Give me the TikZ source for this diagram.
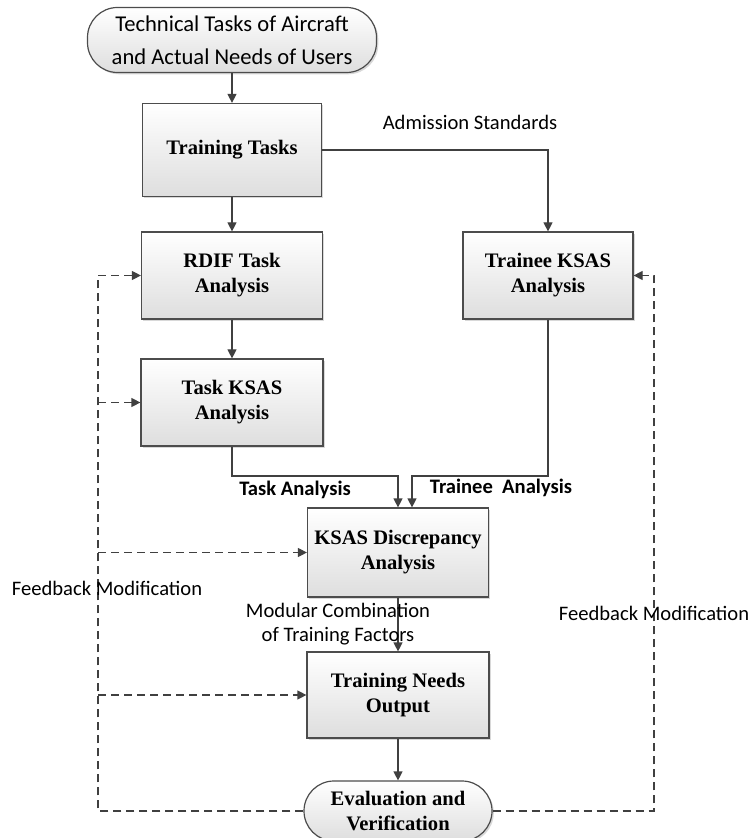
\documentclass[tikz,border=0pt]{standalone}
\usepackage{fontspec}
\setmainfont{Liberation Serif}
\newfontfamily\calibri{Carlito}
\usetikzlibrary{arrows.meta,shadows}

\tikzset{
  box/.style={draw=black!70, line width=0.6pt, top color=white, bottom color=black!13,
    drop shadow={shadow xshift=0.9pt, shadow yshift=-0.9pt, fill=black!30},
    align=center, inner sep=2pt, font=\fontsize{10.3}{12.5}\selectfont\bfseries},
  term/.style={box, rounded corners=15pt},
  link/.style={draw=black!75, line width=0.6pt, -{Triangle[length=4.5pt,width=4.5pt]}},
  back/.style={link, dash pattern=on 4pt off 2.5pt},
  lbl/.style={font=\calibri\fontsize{10.3}{12}\selectfont, align=center},
  blbl/.style={font=\calibri\bfseries\fontsize{10.3}{12}\selectfont},
}

\begin{document}
\begin{tikzpicture}[x=0.5pt, y=-0.5pt]
\useasboundingbox (0,0) rectangle (749,838);

% flow boxes
\node[term, minimum width=144.5pt, minimum height=32.5pt,
  font=\calibri\fontsize{11.3}{16.5}\selectfont] (users) at (232,40) {Technical Tasks of Aircraft\\and Actual Needs of Users};
\node[box, minimum width=89.5pt, minimum height=46.5pt] (tasks) at (232,150) {Training Tasks};
\node[box, minimum width=90.5pt, minimum height=43.5pt] (rdif) at (232,275.5) {RDIF Task\\Analysis};
\node[box, minimum width=91pt, minimum height=43.5pt] (tksas) at (232,402.5) {Task KSAS\\Analysis};
\node[box, minimum width=85pt, minimum height=43.5pt] (trainee) at (548,275.5) {Trainee KSAS\\Analysis};
\node[box, minimum width=90.5pt, minimum height=44.5pt] (disc) at (398,552.5) {KSAS Discrepancy\\Analysis};
\node[box, minimum width=91pt, minimum height=43pt] (output) at (398,695) {Training Needs\\Output};
\node[term, minimum width=94pt, minimum height=30pt] (eval) at (398,811) {Evaluation and\\Verification};

% main arrows
\draw[link] (users.south) -- (tasks.north);
\draw[link] (tasks.south) -- (rdif.north);
\draw[link] (rdif.south) -- (tksas.north);
\draw[link] (tasks.east) -| (trainee.north);
\coordinate (tj) at (398,476);
\coordinate (rj) at (412,476);
\draw[link] (tksas.south) |- (tj) -- (tj |- disc.north);
\draw[link] (trainee.south) |- (rj) -- (rj |- disc.north);
\draw[link] (disc.south) -- (output.north);
\draw[link] (output.south) -- (eval.north);

% feedback loops
\coordinate (fl) at (98,811);
\coordinate (fr) at (654,811);
\draw[back] (eval.west) -- (fl) |- (rdif.west);
\foreach \n in {tksas,disc,output}
  \draw[back] (fl |- \n.west) -- (\n.west);
\draw[back] (eval.east) -- (fr) |- (trainee.east);

% labels
\node[lbl] (adm) at (470,122) {Admission Standards};
\node[blbl] (tal) at (295,490) {Task Analysis};
\node[blbl] (tral) at (501,488) {Trainee\ \ Analysis};
\node[lbl] (mod) at (338,624) {Modular Combination\\of Training Factors};
\node[lbl] (fbl) at (107,588) {Feedback Modification};
\node[lbl] (fbr) at (654,613) {Feedback Modification};

\end{tikzpicture}
\end{document}
